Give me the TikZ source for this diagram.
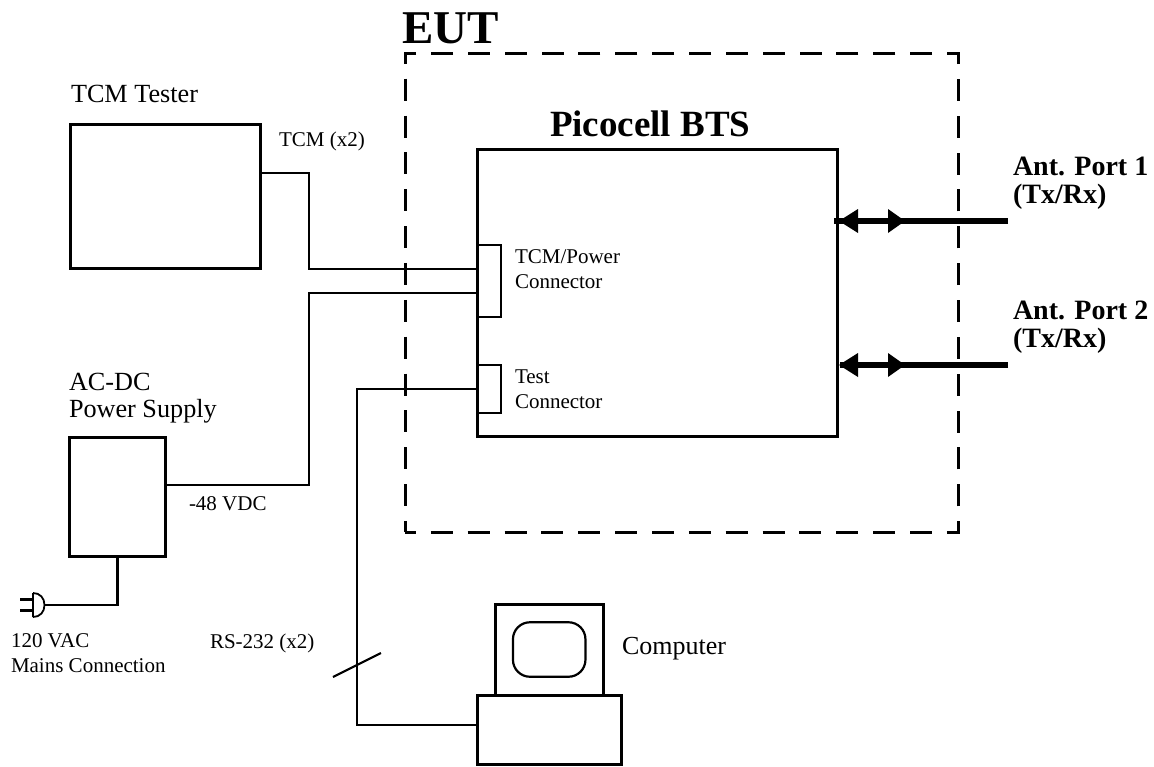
\documentclass[tikz,border=0pt]{standalone}
\usepackage{fontspec}
\setmainfont{Liberation Serif}
\usetikzlibrary{calc}
\tikzset{
 box/.style={draw=black,line width=3pt,inner sep=0pt,outer sep=0pt,fill=none},
 wire/.style={draw=black,line width=2.2pt,line join=miter},
 txt/.style={anchor=base west,inner sep=0pt,outer sep=0pt,align=left,text=black},
 small/.style={font=\fontsize{21}{24.5}\selectfont},
 mid/.style={font=\fontsize{26.2}{27}\selectfont},
 bigb/.style={font=\fontsize{28}{28}\selectfont\bfseries},
}
\begin{document}
\begin{tikzpicture}[x=1pt,y=-1pt]
\useasboundingbox (0,0) rectangle (1154,766);
% boxes
\node[box,minimum width=190.5pt,minimum height=144pt] (tester) at (165.25,196) {};
\node[box,minimum width=360pt,minimum height=287pt] (bts) at (657,292.5) {};
\node[box,line width=2.4pt,minimum width=24pt,minimum height=72pt] (conA) at (489,281) {};
\node[box,line width=2.4pt,minimum width=24pt,minimum height=48pt] (conB) at (489,389) {};
\node[box,minimum width=96pt,minimum height=119pt] (psu) at (117.5,496.5) {};
\node[draw=black,line width=3pt,dash pattern=on 22pt off 14.857pt,dash phase=11pt,inner sep=0pt,minimum width=553pt,minimum height=479pt] (eut) at (681.5,292.5) {};
\node[box,minimum width=107.6pt,minimum height=91pt] (monitor) at (549.5,650) {};
\node[box,line width=2.2pt,rounded corners=17pt,minimum width=72.5pt,minimum height=54.5pt] (screen) at (549.2,649.5) {};
\node[box,minimum width=144pt,minimum height=69.5pt] (computer) at (549.5,729.75) {};
% coordinates
\coordinate (plug) at (44,605);
\coordinate (sl1) at (333,677);
\coordinate (sl2) at (381,653);
% wires
\draw[wire] (tester.east |- 0,173) -- (309,173) -- (309,269) -- (conA.west |- 0,269);
\draw[wire] (psu.east |- 0,485) -- (309,485) -- (309,293) -- (conA.west |- 0,293);
\draw[wire] (conB.west) -- (357,389) -- (357,725) -- (computer.west |- 0,725);
\draw[wire] (psu.south) |- (plug);
\draw[wire] (sl1) -- (sl2);
% plug
\draw[line width=1.8pt] (33,593) -- (33,617) (33,593) .. controls (40,593) and (44.5,598) .. (44.5,605) .. controls (44.5,612) and (40,617) .. (33,617);
\draw[line width=3pt] (20,599) -- (33,599) (20,610) -- (33,610);
% antennas
\foreach \yy/\st in {221/834,365/840}{
  \coordinate (antend) at (1008,\yy);
  \draw[black,line width=6pt] (antend) -- (\st,\yy);
  \fill (839,\yy) -- (858,\yy-12) -- (858,\yy+12) -- cycle;
  \fill (905,\yy) -- (888,\yy-12) -- (888,\yy+12) -- cycle;
}
% texts
\node[txt,font=\fontsize{47}{47}\selectfont\bfseries] (teut) at (402,43) {EUT};
\node[txt,font=\fontsize{37}{37}\selectfont\bfseries] (tpico) at (550,136) {Picocell BTS};
\node[txt,mid] (ttester) at (71,102) {TCM Tester};
\node[txt,small] (ttcm) at (279,146) {TCM (x2)};
\node[txt,small] (tconA) at (515,288) {TCM/Power\\Connector};
\node[txt,small] (tconB) at (515,408) {Test\\Connector};
\node[txt,small] (t48) at (189,510) {-48 VDC};
\node[txt,mid] (tpsu) at (69,417) {AC-DC\\Power Supply};
\node[txt,small] (tmains) at (11,672) {120 VAC\\Mains Connection};
\node[txt,small] (trs) at (210,648) {RS-232 (x2)};
\node[txt,font=\fontsize{26}{28}\selectfont] (tcomp) at (622,654) {Computer};
\node[txt,bigb] (tant1) at (1013,203) {Ant. Port 1\\(Tx/Rx)};
\node[txt,bigb] (tant2) at (1013,347) {Ant. Port 2\\(Tx/Rx)};
\end{tikzpicture}
\end{document}
